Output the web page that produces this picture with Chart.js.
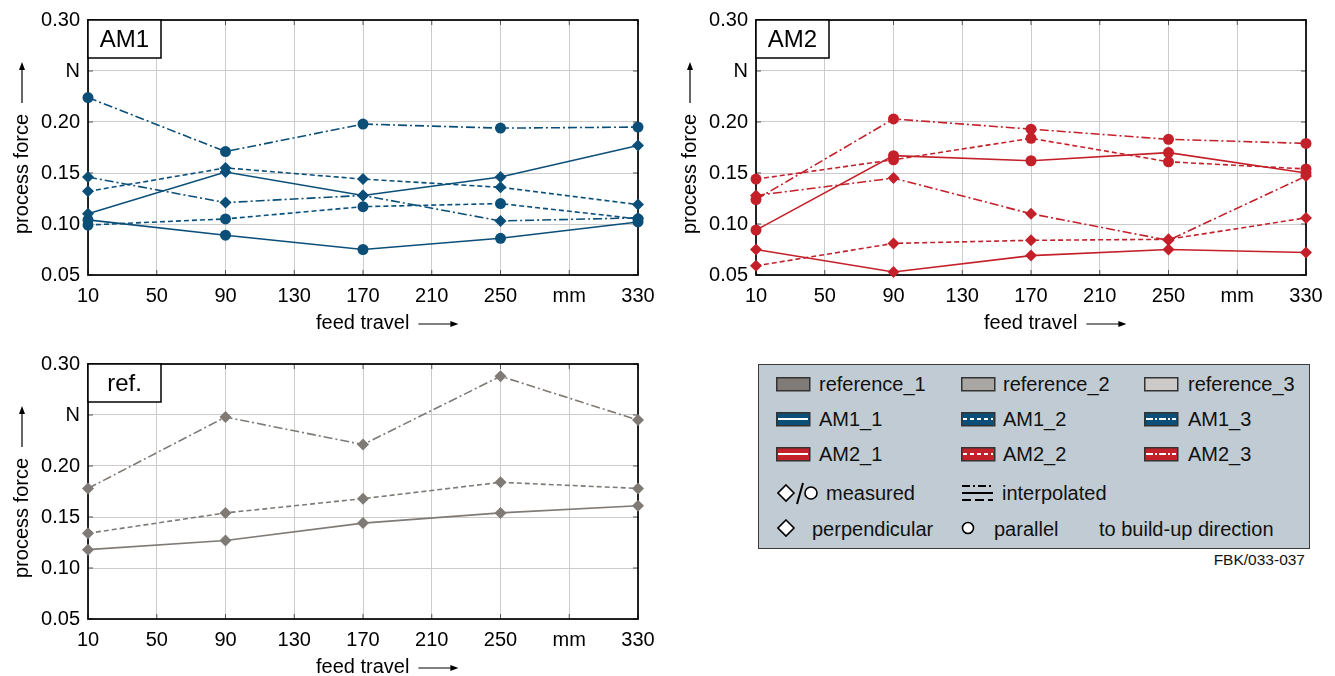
<!DOCTYPE html>
<html>
<head>
<meta charset="utf-8">
<script src="https://cdn.jsdelivr.net/npm/chart.js@4.4.1/dist/chart.umd.min.js"></script>
<style>
  body { margin: 0; width: 1335px; height: 676px; background: #fff; position: relative; overflow: hidden;
         font-family: "Liberation Sans", Arial, Helvetica, sans-serif; }
  canvas { position: absolute; }
  #legend { position: absolute; left: 758px; top: 364px; width: 550px; height: 183px;
            background: #c0cbd3; border: 1.5px solid #3a3a3a; }
  #legend .it { position: absolute; font-size: 20px; line-height: 24px; color: #111; white-space: nowrap; }
  #legend svg { position: absolute; }
  #code { position: absolute; right: 30px; top: 551px; font-size: 15.5px; color: #111; }
</style>
</head>
<body>
<canvas id="am1" width="665" height="340" style="left:0;top:0"></canvas>
<canvas id="am2" width="665" height="340" style="left:668px;top:0"></canvas>
<canvas id="ref" width="665" height="340" style="left:0;top:344px"></canvas>
<div id="legend"></div>
<div id="code">FBK/033-037</div>

<script>
// feed travel positions (mm) where the force was measured
const feedTravel = [10, 90, 170, 250, 330];
const xTickLabels = ['10', '50', '90', '130', '170', '210', '250', 'mm', '330'];
const yTickLabels = ['0.05', '0.10', '0.15', '0.20', 'N', '0.30'];

// AM1 (perp = diamond, par = circle)
const am1_1_perp = [0.110, 0.151, 0.128, 0.146, 0.177];
const am1_1_par  = [0.104, 0.089, 0.075, 0.086, 0.102];
const am1_2_perp = [0.132, 0.155, 0.144, 0.136, 0.119];
const am1_2_par  = [0.099, 0.105, 0.117, 0.120, 0.105];
const am1_3_perp = [0.146, 0.121, 0.128, 0.103, 0.106];
const am1_3_par  = [0.224, 0.171, 0.198, 0.194, 0.195];

// AM2
const am2_1_perp = [0.075, 0.053, 0.069, 0.075, 0.072];
const am2_1_par  = [0.094, 0.167, 0.162, 0.170, 0.150];
const am2_2_perp = [0.059, 0.081, 0.084, 0.085, 0.106];
const am2_2_par  = [0.144, 0.163, 0.184, 0.161, 0.154];
const am2_3_perp = [0.128, 0.145, 0.110, 0.084, 0.147];
const am2_3_par  = [0.124, 0.203, 0.193, 0.183, 0.179];

// reference
const ref_1 = [0.118, 0.127, 0.144, 0.154, 0.161];
const ref_2 = [0.134, 0.154, 0.168, 0.184, 0.178];
const ref_3 = [0.178, 0.248, 0.221, 0.288, 0.245];

const BLUE = '#0b4f79';
const RED = '#c4202a';
const GRAY = '#7f7a75';
const SOLID = [];
const DASH = [5, 3];
const DASHDOT = [9, 3, 2, 3];

function makeSet(values, color, dash, shape) {
    return {
        data: values.map((v, i) => ({ x: feedTravel[i], y: v })),
        borderColor: color,
        backgroundColor: color,
        borderWidth: 1.6,
        borderDash: dash,
        pointStyle: shape,
        pointRadius: shape === 'circle' ? 5.5 : 6,
        pointBorderWidth: 0,
        tension: 0,
        fill: false,
        clip: false
    };
}

function arrow(ctx, x1, y1, x2, y2) {
    const ang = Math.atan2(y2 - y1, x2 - x1);
    ctx.beginPath();
    ctx.moveTo(x1, y1);
    ctx.lineTo(x2 - Math.cos(ang) * 5, y2 - Math.sin(ang) * 5);
    ctx.lineWidth = 1.2;
    ctx.stroke();
    ctx.beginPath();
    ctx.moveTo(x2, y2);
    ctx.lineTo(x2 - Math.cos(ang) * 8 + Math.sin(ang) * 3, y2 - Math.sin(ang) * 8 - Math.cos(ang) * 3);
    ctx.lineTo(x2 - Math.cos(ang) * 8 - Math.sin(ang) * 3, y2 - Math.sin(ang) * 8 + Math.cos(ang) * 3);
    ctx.closePath();
    ctx.fill();
}

// frame, inner tick marks, panel title box and axis titles
function decor(title) {
    return {
        id: 'decor',
        beforeDatasetsDraw(chart) {
            const a = chart.chartArea, ctx = chart.ctx;
            ctx.save();
            ctx.strokeStyle = '#555';
            ctx.lineWidth = 1;
            chart.scales.x.ticks.forEach(t => {
                const px = chart.scales.x.getPixelForValue(t.value);
                ctx.beginPath();
                ctx.moveTo(px, a.bottom); ctx.lineTo(px, a.bottom - 5);
                ctx.moveTo(px, a.top); ctx.lineTo(px, a.top + 5);
                ctx.stroke();
            });
            chart.scales.y.ticks.forEach(t => {
                const py = chart.scales.y.getPixelForValue(t.value);
                ctx.beginPath();
                ctx.moveTo(a.left, py); ctx.lineTo(a.left + 5, py);
                ctx.moveTo(a.right, py); ctx.lineTo(a.right - 5, py);
                ctx.stroke();
            });
            ctx.strokeStyle = '#000';
            ctx.lineWidth = 1.7;
            ctx.strokeRect(a.left, a.top, a.right - a.left, a.bottom - a.top);
            ctx.restore();
        },
        afterDraw(chart) {
            const a = chart.chartArea, ctx = chart.ctx;
            ctx.save();
            // title box
            ctx.fillStyle = '#fff';
            ctx.strokeStyle = '#000';
            ctx.lineWidth = 1.5;
            ctx.fillRect(a.left, a.top, 73, 38);
            ctx.strokeRect(a.left, a.top, 73, 38);
            ctx.fillStyle = '#000';
            ctx.font = '24px "Liberation Sans", Arial, sans-serif';
            ctx.textAlign = 'center';
            ctx.textBaseline = 'middle';
            ctx.fillText(title, a.left + 36.5, a.top + 20);

            // x axis title
            ctx.font = '20px "Liberation Sans", Arial, sans-serif';
            ctx.textAlign = 'left';
            const xt = 'feed travel';
            const xw = ctx.measureText(xt).width;
            const tx = a.left + 228, ty = a.bottom + 48;
            ctx.fillText(xt, tx, ty);
            ctx.strokeStyle = '#000';
            arrow(ctx, tx + xw + 9, ty + 1, tx + xw + 49, ty + 1);

            // y axis title
            ctx.translate(a.left - 66, a.top + 214);
            ctx.rotate(-Math.PI / 2);
            const yt = 'process force';
            const yw = ctx.measureText(yt).width;
            ctx.fillText(yt, 0, 0);
            arrow(ctx, yw + 11, 0, yw + 52, 0);
            ctx.restore();
        }
    };
}

function makeChart(id, title, datasets) {
    return new Chart(document.getElementById(id), {
        type: 'line',
        data: { datasets: datasets },
        options: {
            responsive: false,
            animation: false,
            layout: { padding: { top: 20, right: 27, bottom: 0, left: 0 } },
            plugins: { legend: { display: false }, tooltip: { enabled: false } },
            scales: {
                x: {
                    type: 'linear', min: 10, max: 330,
                    grid: { color: '#cccccc', lineWidth: 1, drawTicks: false },
                    border: { display: false },
                    ticks: {
                        stepSize: 40, autoSkip: false, maxRotation: 0, padding: 9,
                        color: '#000', font: { size: 20, family: '"Liberation Sans", Arial, sans-serif' },
                        callback: (v, i) => xTickLabels[i]
                    },
                    afterFit: s => { s.height = 65; }
                },
                y: {
                    min: 0.05, max: 0.30,
                    grid: { color: '#cccccc', lineWidth: 1, drawTicks: false },
                    border: { display: false },
                    ticks: {
                        stepSize: 0.05, padding: 8,
                        color: '#000', font: { size: 20, family: '"Liberation Sans", Arial, sans-serif' },
                        callback: (v, i) => yTickLabels[i]
                    },
                    afterFit: s => { s.width = 88; }
                }
            }
        },
        plugins: [decor(title)]
    });
}

makeChart('am1', 'AM1', [
    makeSet(am1_1_perp, BLUE, SOLID, 'rectRot'),
    makeSet(am1_1_par, BLUE, SOLID, 'circle'),
    makeSet(am1_2_perp, BLUE, DASH, 'rectRot'),
    makeSet(am1_2_par, BLUE, DASH, 'circle'),
    makeSet(am1_3_perp, BLUE, DASHDOT, 'rectRot'),
    makeSet(am1_3_par, BLUE, DASHDOT, 'circle')
]);

makeChart('am2', 'AM2', [
    makeSet(am2_1_perp, RED, SOLID, 'rectRot'),
    makeSet(am2_1_par, RED, SOLID, 'circle'),
    makeSet(am2_2_perp, RED, DASH, 'rectRot'),
    makeSet(am2_2_par, RED, DASH, 'circle'),
    makeSet(am2_3_perp, RED, DASHDOT, 'rectRot'),
    makeSet(am2_3_par, RED, DASHDOT, 'circle')
]);

makeChart('ref', 'ref.', [
    makeSet(ref_1, GRAY, SOLID, 'rectRot'),
    makeSet(ref_2, GRAY, DASH, 'rectRot'),
    makeSet(ref_3, GRAY, DASHDOT, 'rectRot')
]);

// legend box
const legendNames = [
    ['reference_1', 'reference_2', 'reference_3'],
    ['AM1_1', 'AM1_2', 'AM1_3'],
    ['AM2_1', 'AM2_2', 'AM2_3']
];
const legendFill = [['#807b76', '#aaa6a2', '#cdcac7'], [BLUE, BLUE, BLUE], [RED, RED, RED]];
const dashCss = ['none', '4 3', '7 2 2 2'];
const colSwatch = [17, 202, 385];
const colText = [60, 244, 429];
const rowY = [19, 54, 89];

let html = '';
legendNames.forEach((row, r) => {
    row.forEach((name, c) => {
        let inner = '';
        if (r > 0) {
            inner = `<line x1="2" y1="7" x2="32" y2="7" stroke="#fff" stroke-width="2" stroke-dasharray="${dashCss[c]}"/>`;
        }
        html += `<svg width="35" height="15" style="left:${colSwatch[c]}px;top:${rowY[r] - 7}px">` +
            `<rect x="0.75" y="0.75" width="33" height="13" fill="${legendFill[r][c]}" stroke="#333" stroke-width="1.5"/>${inner}</svg>`;
        html += `<span class="it" style="left:${colText[c]}px;top:${rowY[r] - 12}px">${name}</span>`;
    });
});
// measured / interpolated
html += `<svg width="44" height="26" style="left:18px;top:115px">` +
    `<polygon points="9,5 17,13 9,21 1,13" fill="#fff" stroke="#000" stroke-width="1.6"/>` +
    `<line x1="26" y1="3" x2="20" y2="24" stroke="#000" stroke-width="2"/>` +
    `<circle cx="34" cy="13" r="6" fill="#fff" stroke="#000" stroke-width="1.6"/></svg>`;
html += `<span class="it" style="left:67px;top:116px">measured</span>`;
html += `<svg width="34" height="22" style="left:203px;top:117px">` +
    `<line x1="0" y1="4" x2="31" y2="4" stroke="#000" stroke-width="2" stroke-dasharray="8 3 2 3"/>` +
    `<line x1="0" y1="11" x2="31" y2="11" stroke="#000" stroke-width="2"/>` +
    `<line x1="0" y1="18" x2="31" y2="18" stroke="#000" stroke-width="2" stroke-dasharray="9 4"/></svg>`;
html += `<span class="it" style="left:243px;top:116px">interpolated</span>`;
// perpendicular / parallel
html += `<svg width="20" height="20" style="left:18px;top:154px">` +
    `<polygon points="9,1 17,9 9,17 1,9" fill="#fff" stroke="#000" stroke-width="1.6"/></svg>`;
html += `<span class="it" style="left:53px;top:152px">perpendicular</span>`;
html += `<svg width="16" height="16" style="left:202px;top:156px">` +
    `<circle cx="7" cy="7" r="5.5" fill="#fff" stroke="#000" stroke-width="1.6"/></svg>`;
html += `<span class="it" style="left:235px;top:152px">parallel</span>`;
html += `<span class="it" style="left:340px;top:152px">to build-up direction</span>`;
document.getElementById('legend').innerHTML = html;
</script>
</body>
</html>
